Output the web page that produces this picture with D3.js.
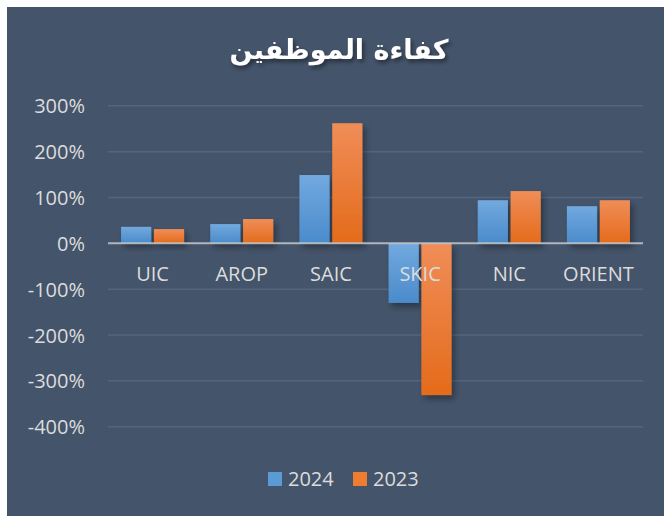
<!DOCTYPE html>
<html><head><meta charset="utf-8">
<script src="https://cdn.jsdelivr.net/npm/d3@7"></script>
<style>
html,body{margin:0;padding:0;background:#fff;}
svg{display:block;}
</style></head>
<body>
<script>
const categories = ["UIC","AROP","SAIC","SKIC","NIC","ORIENT"];
const series = ["2024","2023"];
const values2024 = [36, 42, 149, -130, 94, 81];
const values2023 = [31, 53, 262, -331, 114, 94];
const yTicks = [300,200,100,0,-100,-200,-300,-400];
const title = "كفاءة الموظفين";

const W = 664, H = 516;
const svg = d3.select("body").append("svg").attr("width", W).attr("height", H);
const defs = svg.append("defs");

function grad(id, c1, c2){
  const g = defs.append("linearGradient").attr("id", id).attr("x1",0).attr("y1",0).attr("x2",0).attr("y2",1);
  g.append("stop").attr("offset","0%").attr("stop-color",c1);
  g.append("stop").attr("offset","100%").attr("stop-color",c2);
}
grad("gBlue", "#72a9df", "#4a8bcb");
grad("gOrange", "#f08d58", "#e46b1b");
const f = defs.append("filter").attr("id","sh").attr("x","-30%").attr("y","-30%").attr("width","180%").attr("height","180%");
f.append("feDropShadow").attr("dx",3).attr("dy",4).attr("stdDeviation",3).attr("flood-color","#000").attr("flood-opacity",0.35);
const ft = defs.append("filter").attr("id","tsh").attr("x","-10%").attr("y","-30%").attr("width","120%").attr("height","170%");
ft.append("feDropShadow").attr("dx",2).attr("dy",3).attr("stdDeviation",2).attr("flood-color","#000").attr("flood-opacity",0.45);

svg.append("rect").attr("x",7).attr("y",7).attr("width",W-7).attr("height",H-7).attr("fill","#44546a");

const x0 = 108, x1 = 643;
const y = d3.scaleLinear().domain([-400,300]).range([426.7, 105.8]);
const x = d3.scaleBand().domain(categories).range([x0,x1]).paddingInner(0).paddingOuter(0);
const xs = d3.scaleBand().domain(series).range([0, 63]).paddingInner(5/63);
const groupOffset = (x.bandwidth()-63)/2;

// gridlines
svg.append("g").selectAll("line").data(yTicks.filter(d=>d!==0)).join("line")
  .attr("x1",x0).attr("x2",x1).attr("y1",d=>y(d)).attr("y2",d=>y(d))
  .attr("stroke","#56657b").attr("stroke-width",1.5);

// y axis labels
const yAxis = d3.axisLeft(y).tickValues(yTicks).tickFormat(d=>d+"%").tickSize(0).tickPadding(0);
const ya = svg.append("g").attr("transform","translate(85,0)").call(yAxis);
ya.select(".domain").remove();
ya.selectAll("text").attr("fill","#dcdcdc").attr("font-family","Open Sans").attr("font-size",20).attr("dy","0.35em");

// bars
const data = categories.map((c,i)=>({c, vals:[{s:"2024",v:values2024[i]},{s:"2023",v:values2023[i]}]}));
const g = svg.append("g");
data.forEach(d=>{
  d.vals.forEach(b=>{
    g.append("rect")
      .attr("x", x(d.c)+groupOffset+xs(b.s))
      .attr("width", xs.bandwidth())
      .attr("y", Math.min(y(b.v), y(0)))
      .attr("height", Math.abs(y(b.v)-y(0)))
      .attr("fill", b.s==="2024" ? "url(#gBlue)" : "url(#gOrange)")
      .attr("filter","url(#sh)");
  });
});

// zero line
svg.append("line").attr("x1",x0).attr("x2",x1).attr("y1",y(0)).attr("y2",y(0))
  .attr("stroke","#c4c8cd").attr("stroke-opacity",0.85).attr("stroke-width",2);

// category labels
const xAxis = d3.axisBottom(x).tickSize(0).tickPadding(0);
const xa = svg.append("g").attr("transform","translate(0,"+(y(0))+")").call(xAxis);
xa.select(".domain").remove();
xa.selectAll("text").attr("fill","#dcdcdc").attr("font-family","Open Sans").attr("font-size",20)
  .attr("y",38).attr("dy",0);

// title
svg.append("text").attr("x",339).attr("y",59).attr("text-anchor","middle")
  .attr("fill","#ffffff").attr("font-family","DejaVu Sans").attr("font-weight","bold").attr("font-size",27)
  .attr("filter","url(#tsh)").attr("direction","rtl").text(title);

// legend
const legendX = [268, 353];
const leg = svg.append("g");
series.forEach((s,i)=>{
  leg.append("rect").attr("x",legendX[i]).attr("y",472).attr("width",14).attr("height",14)
    .attr("fill", i===0 ? "#5b9bd5" : "#ed7d31");
  leg.append("text").attr("x",legendX[i]+20).attr("y",486).attr("fill","#dcdcdc")
    .attr("font-family","Open Sans").attr("font-size",20).text(s);
});
</script>
</body></html>
